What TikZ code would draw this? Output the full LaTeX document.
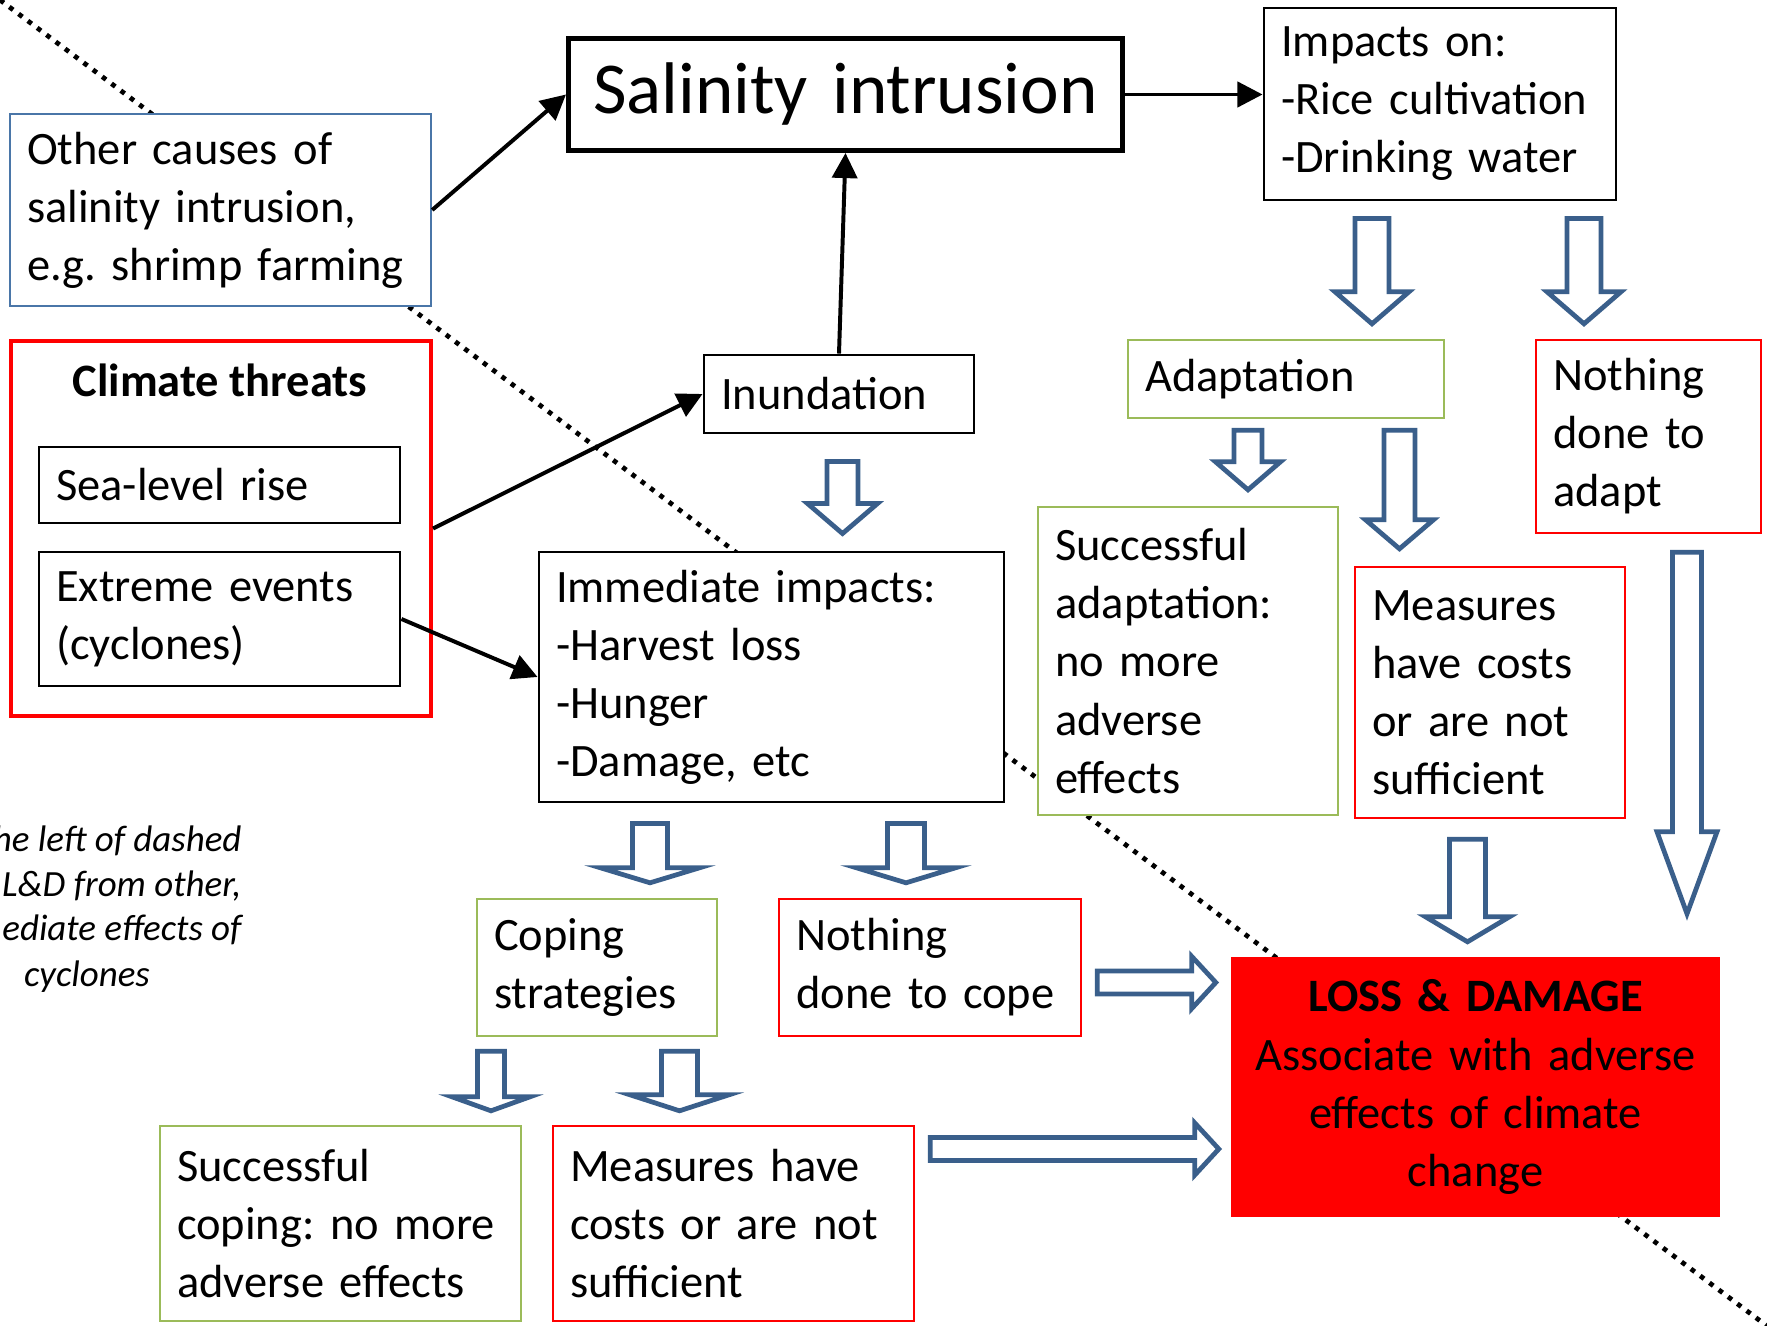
\documentclass[tikz,border=0pt]{standalone}
\usepackage{fontspec}
\setmainfont{Carlito}
\usetikzlibrary{arrows.meta,calc}
\frenchspacing
\newcommand\pxunit{0.3788pt}
\definecolor{ldblue}{HTML}{3A5F8B}
\definecolor{ldframe}{HTML}{4A76A8}
\definecolor{ldgreen}{HTML}{9BBB59}
\definecolor{ldred}{HTML}{FF0000}
\tikzset{
  box/.style={draw, fill=white, line width=0.9pt, inner xsep=6.5pt, inner ysep=0pt,
    align=left, font=\fontsize{17.6}{22}\selectfont},
  boxsize/.style 2 args={minimum width=#1*\pxunit, minimum height=#2*\pxunit,
    text width=#1*\pxunit-13pt},
  blackbox/.style={box, draw=black, line width=1.1pt},
  greenbox/.style={box, draw=ldgreen},
  redbox/.style={box, draw=ldred},
  bluebox/.style={box, draw=ldframe},
  thinarrow/.style={line width=1.5pt, -{Triangle[length=9.5pt,width=9.5pt]}},
  divider/.style={line width=1.8pt, dash pattern=on 1.8pt off 2.6pt},
  note/.style={inner sep=0pt, font=\itshape\fontsize{14}{17}\selectfont},
  hollowdown/.style n args={3}{draw=ldblue, fill=white, line width=1.8pt,
    to path={let \p1=(\tikztostart), \p2=(\tikztotarget) in
      ({\x1-#1*\pxunit},\y1) -- ({\x1+#1*\pxunit},\y1)
      -- ({\x1+#1*\pxunit},{\y2+#3*\pxunit}) -- ({\x1+#2*\pxunit},{\y2+#3*\pxunit})
      -- (\x1,\y2) -- ({\x1-#2*\pxunit},{\y2+#3*\pxunit})
      -- ({\x1-#1*\pxunit},{\y2+#3*\pxunit}) -- cycle}},
  hollowright/.style n args={3}{draw=ldblue, fill=white, line width=1.8pt,
    to path={let \p1=(\tikztostart), \p2=(\tikztotarget) in
      (\x1,{\y1+#1*\pxunit}) -- ({\x2-#3*\pxunit},{\y1+#1*\pxunit})
      -- ({\x2-#3*\pxunit},{\y1+#2*\pxunit}) -- (\x2,\y1)
      -- ({\x2-#3*\pxunit},{\y1-#2*\pxunit}) -- ({\x2-#3*\pxunit},{\y1-#1*\pxunit})
      -- (\x1,{\y1-#1*\pxunit}) -- cycle}}
}
\begin{document}
\begin{tikzpicture}[x=0.3788pt, y=-0.3788pt]
\useasboundingbox (0,0) rectangle (1767,1326);
% dotted divider
\draw[divider] (0,0) -- (1767,1326);

% causes
\node[blackbox, boxsize={554}{112}, line width=1.9pt, align=center,
  font=\fontsize{27.7}{34}\selectfont] (salinity) at (845.5,94.5) {Salinity intrusion};
\node[blackbox, boxsize={352}{192}] (impacts) at (1440,104) {Impacts on:\\-Rice cultivation\\-Drinking water};
\node[bluebox, boxsize={421}{192}] (other) at (220.5,210) {Other causes of\\salinity intrusion,\\e.g. shrimp farming};
\node[box, draw=ldred, line width=1.6pt, boxsize={420}{375}] (threats) at (221,528.5) {};
\node[font=\bfseries\fontsize{17.6}{22}\selectfont] (threatstitle) at (220,380) {Climate threats};
\node[blackbox, boxsize={361}{76}] (sealevel) at (219.5,485) {Sea-level rise};
\node[blackbox, boxsize={361}{134}] (extreme) at (219.5,619) {Extreme events\\(cyclones)};
\node[blackbox, boxsize={270}{78}] (inundation) at (839,394) {Inundation};
\node[blackbox, boxsize={465}{250}] (immediate) at (771.5,677) {Immediate impacts:\\-Harvest loss\\-Hunger\\-Damage, etc};

% adaptation side
\node[greenbox, boxsize={316}{78}] (adapt) at (1286,379) {Adaptation};
\node[redbox, boxsize={225}{193}] (nothingadapt) at (1648.5,436.5) {Nothing\\done to\\adapt};
\node[greenbox, boxsize={300}{308}] (successadapt) at (1188,661) {Successful\\adaptation:\\no more\\adverse\\effects};
\node[redbox, boxsize={270}{251}] (measuresadapt) at (1490,692.5) {Measures\\have costs\\or are not\\sufficient};

% coping side
\node[greenbox, boxsize={240}{137}] (coping) at (597,967.5) {Coping\\strategies};
\node[redbox, boxsize={302}{137}] (nothingcope) at (930,967.5) {Nothing\\done to cope};
\node[greenbox, boxsize={361}{195}] (successcope) at (340.5,1223.5) {Successful\\coping: no more\\adverse effects};
\node[redbox, boxsize={361}{195}] (measurescope) at (733.5,1223.5) {Measures have\\costs or are not\\sufficient};

\node[box, draw=ldred, fill=ldred, boxsize={487}{258}, align=center] (loss) at (1475.5,1087)
  {\textbf{LOSS \& DAMAGE}\\Associate with adverse\\effects of climate\\change};

\node[note, align=right, anchor=north east] (notetext) at (242,825) {he left of dashed\\L\&D from other,\\ediate effects of};
\node[note, anchor=base] (notecyclones) at (87,986) {cyclones};

% block arrows
\draw[hollowdown={17}{37}{32}] ([shift={(-68,17)}]impacts.south) to ([shift={(86,-15)}]adapt.north);
\draw[hollowdown={17}{37}{32}] ([shift={(144,17)}]impacts.south) to ([shift={(-64,-15)}]nothingadapt.north);
\draw[hollowdown={14}{32.5}{28}] ([shift={(-38,11)}]adapt.south) to ([shift={(60.5,-16)}]successadapt.north);
\draw[hollowdown={15.5}{34}{29}] ([shift={(113.5,11)}]adapt.south) to ([shift={(-90,-17)}]measuresadapt.north);
\draw[hollowdown={14.5}{30}{82}] ([shift={(38.5,18)}]nothingadapt.south) to ([shift={(211,-43)}]loss.north);
\draw[hollowdown={18}{42}{25}] ([shift={(-22.5,20)}]measuresadapt.south) to ([shift={(-8.5,-15)}]loss.north);
\draw[hollowdown={15.5}{35}{30}] ([shift={(3.5,27)}]inundation.south) to ([shift={(71,-17)}]immediate.north);
\draw[hollowdown={17.5}{49.5}{15}] ([shift={(-121.5,20)}]immediate.south) to ([shift={(52.5,-15)}]coping.north);
\draw[hollowdown={18.5}{49.5}{15}] ([shift={(134.5,20)}]immediate.south) to ([shift={(-24.5,-15)}]nothingcope.north);
\draw[hollowdown={13.5}{39}{14}] ([shift={(-106,14)}]coping.south) to ([shift={(151,-14)}]successcope.north);
\draw[hollowdown={18}{49.5}{16}] ([shift={(82.5,14)}]coping.south) to ([shift={(-53.5,-14)}]measurescope.north);
\draw[hollowright={11.5}{26}{24}] ([shift={(15,15)}]nothingcope.east) to ([shift={(-15,0)}]loss.west);
\draw[hollowright={11.5}{26}{24}] ([shift={(15,-74.5)}]measurescope.east) to ([shift={(-12,0)}]loss.west);

% thin arrows
\draw[thinarrow] (other.east) -- (salinity.west);
\draw[thinarrow] (salinity.east) -- (salinity.east -| impacts.west);
\draw[thinarrow] (inundation.north) -- (salinity.south);
\draw[thinarrow] (threats.east) -- (inundation.west);
\draw[thinarrow] (extreme.east) -- (immediate.west);
\end{tikzpicture}
\end{document}
